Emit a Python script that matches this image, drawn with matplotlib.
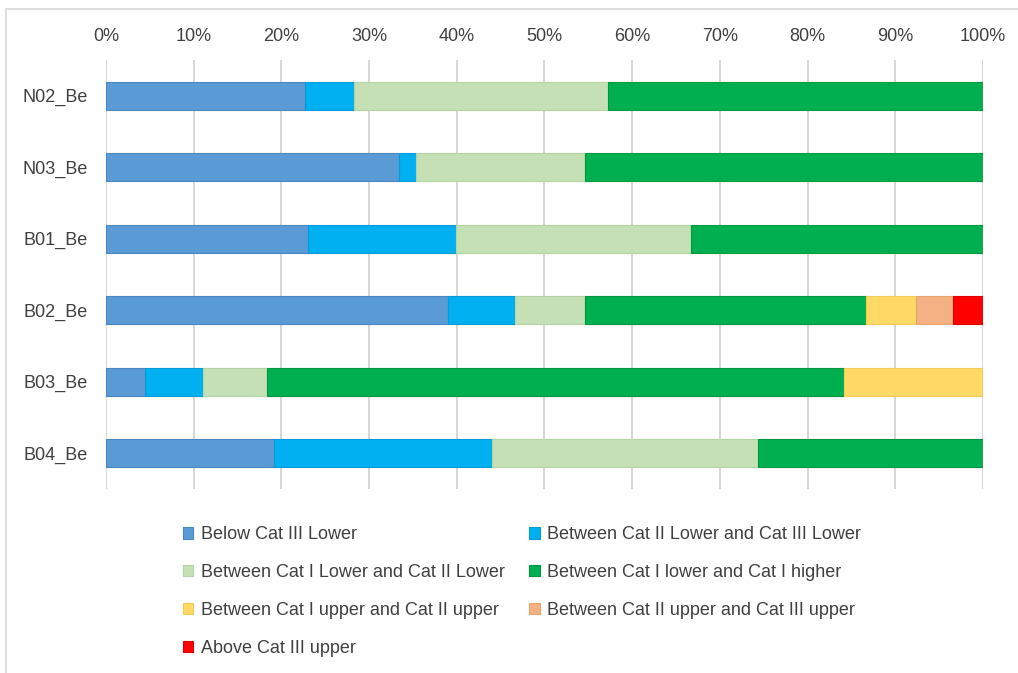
import numpy as np
import matplotlib
matplotlib.use("Agg")
import matplotlib.pyplot as plt
from matplotlib.patches import Patch, Rectangle

plt.rcParams['font.family'] = ['Liberation Sans', 'DejaVu Sans']

# stations, top to bottom
sites = ["N02_Be", "N03_Be", "B01_Be", "B02_Be", "B03_Be", "B04_Be"]

# share of time (%) in each band
below_c3_low = [22.7, 33.4, 23.0, 39.0, 4.4, 19.2]
c2low_c3low = [5.6, 1.9, 16.9, 7.6, 6.7, 24.8]
c1low_c2low = [29.0, 19.3, 26.8, 8.0, 7.3, 30.4]
c1low_c1high = [42.7, 45.4, 33.3, 32.1, 65.8, 25.6]
c1up_c2up = [0.0, 0.0, 0.0, 5.7, 15.8, 0.0]
c2up_c3up = [0.0, 0.0, 0.0, 4.2, 0.0, 0.0]
above_c3_up = [0.0, 0.0, 0.0, 3.4, 0.0, 0.0]

labels = ["Below Cat III Lower",
          "Between Cat II Lower and Cat III Lower",
          "Between Cat I Lower and Cat II Lower",
          "Between Cat I lower and Cat I higher",
          "Between Cat I upper and Cat II upper",
          "Between Cat II upper and Cat III upper",
          "Above Cat III upper"]
series = [below_c3_low, c2low_c3low, c1low_c2low, c1low_c1high,
          c1up_c2up, c2up_c3up, above_c3_up]
colors = ["#5B9BD5", "#00B0F0", "#C5E0B4", "#00B050",
          "#FFD966", "#F4B183", "#FF0000"]
edges = ["#4A86C0", "#0A9AD8", "#B5D3A2", "#00973F",
         "#F2CC55", "#E8A470", "#E00000"]

fig = plt.figure(figsize=(10.18, 6.73), dpi=100)
# chart-area frame, only its top and left edges fall inside the image
fig.patches.append(Rectangle((0.0059, -0.1), 1.2, 1.087, transform=fig.transFigure,
                             fill=False, edgecolor="#D9D9D9", linewidth=1.2))
ax = fig.add_axes([0.1041, 0.2734, 0.8615, 0.6374])

y = np.arange(len(sites))
left = np.zeros(len(sites))
for vals, c, ec in zip(series, colors, edges):
    vals = np.array(vals)
    ax.barh(y, vals, left=left, height=0.39, color=c, edgecolor=ec, linewidth=0.8, zorder=3)
    left += vals

ax.set_xlim(0, 100)
ax.set_ylim(len(sites) - 0.5, -0.5)
ax.set_yticks(y)
ax.set_yticklabels(sites, fontsize=13, color="#404040")
ax.set_xticks(np.arange(0, 101, 10))
ax.set_xticklabels([f"{v}%" for v in range(0, 101, 10)], fontsize=13, color="#404040")
ax.xaxis.tick_top()
ax.tick_params(length=0, pad=13, axis="y")
ax.tick_params(length=0, pad=11, axis="x")
ax.grid(axis="x", color="#D0D0D0", linewidth=1.2, zorder=0)
for s in ax.spines.values():
    s.set_visible(False)

handles = [Patch(facecolor=c, edgecolor=ec, linewidth=0.8) for c, ec in zip(colors, edges)]
order = [0, 2, 4, 6, 1, 3, 5]
fig.legend([handles[i] for i in order], [labels[i] for i in order],
           ncol=2, loc="upper left", bbox_to_anchor=(0.174, 0.226), frameon=False,
           fontsize=13, handlelength=0.6, handleheight=0.6, handletextpad=0.4,
           columnspacing=1.35, labelspacing=1.15, labelcolor="#404040",
           borderaxespad=0, borderpad=0.3)

fig.savefig("out.png", dpi=100, facecolor="white")
